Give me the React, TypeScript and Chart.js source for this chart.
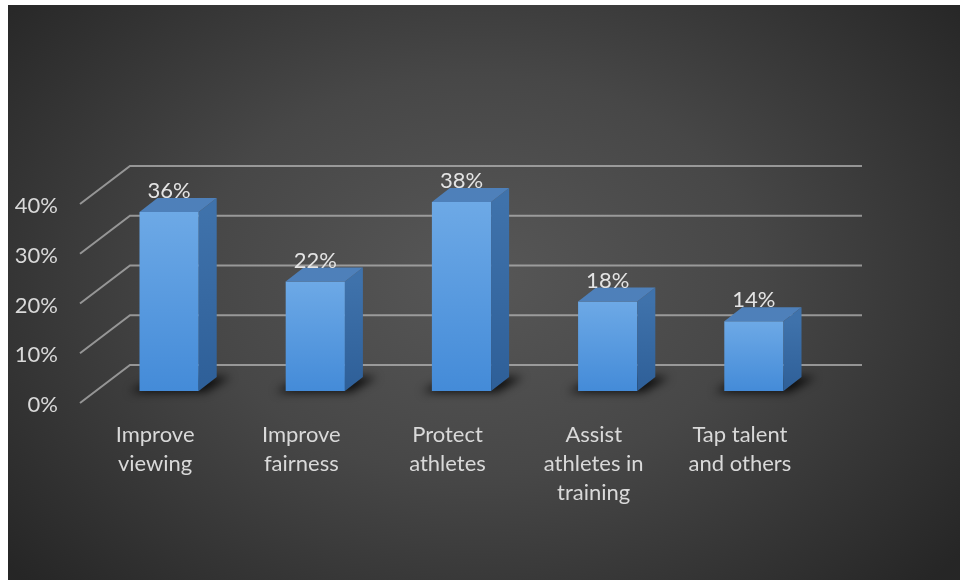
import { useEffect, useRef } from "react";
import { Chart, registerables } from "chart.js";

Chart.register(...registerables);

const categories: string[][] = [
  ["Improve", "viewing"],
  ["Improve", "fairness"],
  ["Protect", "athletes"],
  ["Assist", "athletes in", "training"],
  ["Tap talent", "and others"],
];
const values: number[] = [36, 22, 38, 18, 14];
const yTickValues: number[] = [0, 10, 20, 30, 40];

const FONT = "Lato, 'Open Sans', sans-serif";
const TEXT = "#d9d9d9";
const DEPTH_X = 18;
const DEPTH_Y = 14;

const threeD = {
  id: "threeD",
  beforeDraw(chart: any) {
    const { ctx, width, height } = chart;
    ctx.save();
    ctx.translate(470, 270);
    ctx.scale(1, 0.72);
    const g = ctx.createRadialGradient(0, 0, 0, 0, 0, 620);
    g.addColorStop(0, "#575757");
    g.addColorStop(0.45, "#474747");
    g.addColorStop(1, "#262626");
    ctx.fillStyle = g;
    ctx.fillRect(-470, -270 / 0.72, width, height / 0.72 + 10);
    ctx.restore();
  },
  beforeDatasetsDraw(chart: any) {
    const { ctx, chartArea, scales } = chart;
    const ys = scales.y;
    const L = chartArea.left;
    const R = chartArea.right;
    ctx.save();
    ctx.strokeStyle = "rgba(185,185,185,0.72)";
    ctx.lineWidth = 2;
    for (const v of yTickValues) {
      const yf = ys.getPixelForValue(v);
      ctx.beginPath();
      ctx.moveTo(L - 16, yf + 12);
      ctx.lineTo(L + 34, yf - 26);
      ctx.lineTo(R + 35, yf - 26);
      ctx.stroke();
    }
    // floor shadows
    const meta = chart.getDatasetMeta(0);
    ctx.filter = "blur(5px)";
    ctx.fillStyle = "rgba(0,0,0,0.85)";
    for (const el of meta.data) {
      const { x, base, width } = el.getProps(["x", "base", "width"], true);
      const l = x - width / 2;
      const r = x + width / 2;
      ctx.beginPath();
      ctx.moveTo(l - 10, base + 1);
      ctx.lineTo(r + 6, base + 1);
      ctx.lineTo(r + DEPTH_X + 14, base - DEPTH_Y);
      ctx.lineTo(l + DEPTH_X, base - DEPTH_Y);
      ctx.closePath();
      ctx.fill();
    }
    ctx.restore();
  },
  afterDatasetsDraw(chart: any) {
    const { ctx } = chart;
    const meta = chart.getDatasetMeta(0);
    ctx.save();
    meta.data.forEach((el: any, i: number) => {
      const { x, y, base, width } = el.getProps(["x", "y", "base", "width"], true);
      const l = x - width / 2;
      const r = x + width / 2;
      // side face
      const sg = ctx.createLinearGradient(0, y, 0, base);
      sg.addColorStop(0, "#3f72ab");
      sg.addColorStop(1, "#2e5f98");
      ctx.fillStyle = sg;
      ctx.beginPath();
      ctx.moveTo(r, y);
      ctx.lineTo(r + DEPTH_X, y - DEPTH_Y);
      ctx.lineTo(r + DEPTH_X, base - DEPTH_Y);
      ctx.lineTo(r, base);
      ctx.closePath();
      ctx.fill();
      // top face
      ctx.fillStyle = "#4e80ba";
      ctx.beginPath();
      ctx.moveTo(l, y);
      ctx.lineTo(l + DEPTH_X, y - DEPTH_Y);
      ctx.lineTo(r + DEPTH_X, y - DEPTH_Y);
      ctx.lineTo(r, y);
      ctx.closePath();
      ctx.fill();
      // value label
      ctx.fillStyle = "#e4e4e4";
      ctx.font = `22px ${FONT}`;
      ctx.textAlign = "center";
      ctx.textBaseline = "middle";
      ctx.fillText(values[i] + "%", x, y - 21);
    });
    ctx.restore();
  },
};

export default function App() {
  const ref = useRef<HTMLCanvasElement>(null);
  useEffect(() => {
    if (!ref.current) return;
    const chart = new Chart(ref.current, {
      type: "bar",
      data: {
        labels: categories,
        datasets: [
          {
            data: values,
            backgroundColor: (c: any) => {
              const ch = c.chart;
              if (!ch.chartArea || c.type !== "data") return "#5b9bd5";
              const ys = ch.scales.y;
              const top = ys.getPixelForValue(c.raw as number);
              const bot = ys.getPixelForValue(0);
              const g = ch.ctx.createLinearGradient(0, top, 0, bot);
              g.addColorStop(0, "#6da9e6");
              g.addColorStop(1, "#448bd8");
              return g;
            },
            borderWidth: 0,
            barPercentage: 0.81,
            categoryPercentage: 0.5,
          },
        ],
      },
      options: {
        responsive: true,
        maintainAspectRatio: false,
        animation: false,
        layout: { padding: { left: 0, right: 133, top: 187, bottom: 0 } },
        plugins: {
          legend: { display: false },
          tooltip: { enabled: false },
        },
        scales: {
          x: {
            grid: { display: false, drawTicks: false },
            border: { display: false },
            ticks: {
              color: TEXT,
              font: { family: FONT, size: 22, lineHeight: "29px" as any },
              padding: 29,
              labelOffset: -14,
              maxRotation: 0,
              autoSkip: false,
            },
            afterFit: (s: any) => {
              s.height = 189;
            },
          },
          y: {
            min: 0,
            max: 40,
            grid: { display: false, drawTicks: false },
            border: { display: false },
            afterBuildTicks: (s: any) => {
              s.ticks = yTickValues.map((v) => ({ value: v }));
            },
            ticks: {
              color: TEXT,
              font: { family: FONT, size: 22 },
              padding: 38,
              labelOffset: 14,
              callback: (v: any) => v + "%",
            },
            afterFit: (s: any) => {
              s.width = 88;
            },
          },
        },
      },
      plugins: [threeD],
    });
    return () => chart.destroy();
  }, []);
  return (
    <div style={{ position: "absolute", left: 8, top: 5, width: 952, height: 575 }}>
      <canvas ref={ref} />
    </div>
  );
}
